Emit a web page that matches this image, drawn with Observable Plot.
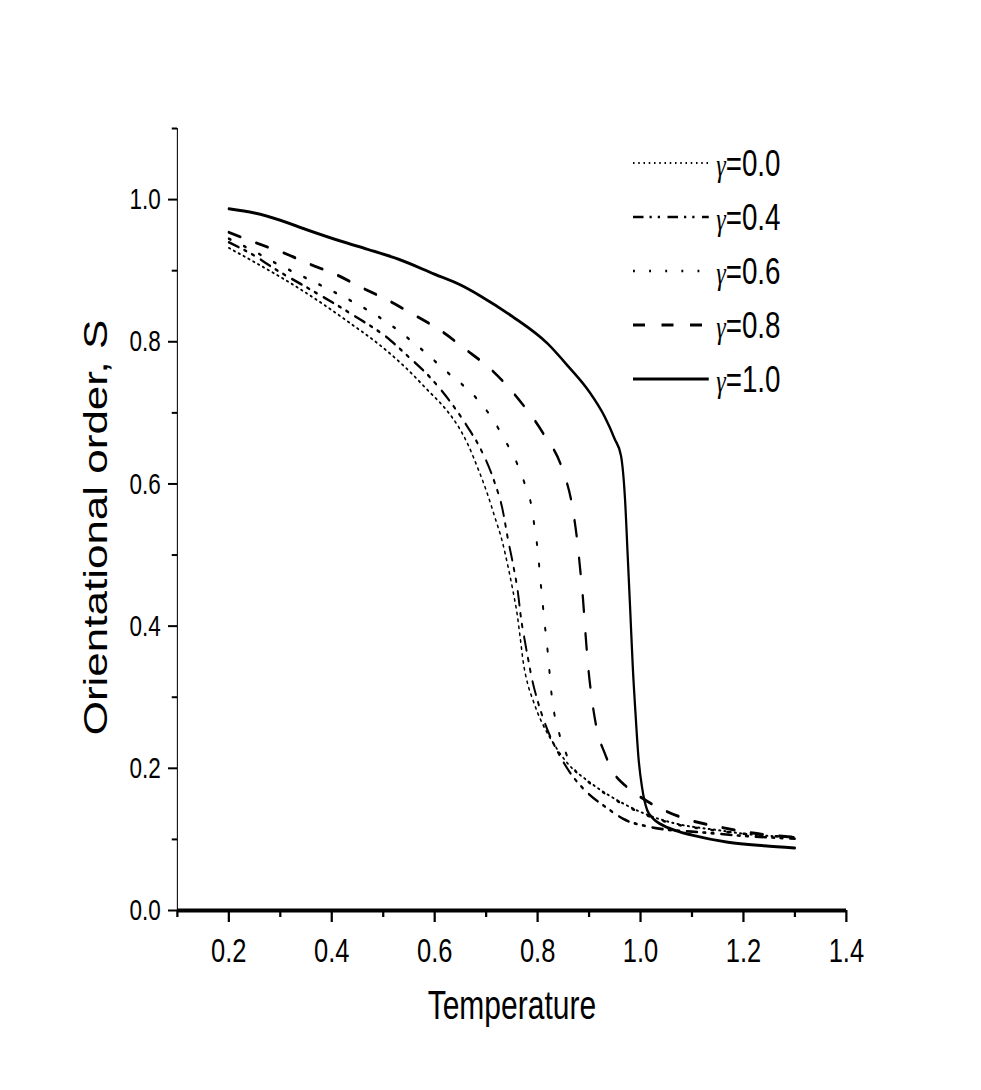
<!DOCTYPE html>
<html><head><meta charset="utf-8">
<script src="https://cdn.jsdelivr.net/npm/d3@7"></script>
<script src="https://cdn.jsdelivr.net/npm/@observablehq/plot@0.6"></script>
<style>html,body{margin:0;padding:0;background:#fff} #chart svg{display:block}</style>
</head><body><div id="chart"></div>
<script>
// ---- data ----
const gammas = ["0.0", "0.4", "0.6", "0.8", "1.0"];

const t00 = [0.20,0.25,0.33,0.383,0.436,0.494,0.543,0.585,0.624,0.644,0.663,0.685,0.702,0.717,0.731,0.743,0.752,0.760,0.766,0.772,0.781,0.790,0.799,0.81,0.83,0.857,0.902,0.96,1.012,1.064,1.15,1.20,1.30];
const s00 = [0.932,0.912,0.878,0.853,0.826,0.795,0.764,0.733,0.703,0.683,0.658,0.620,0.587,0.553,0.520,0.482,0.450,0.418,0.385,0.350,0.318,0.298,0.280,0.262,0.236,0.208,0.180,0.153,0.135,0.123,0.113,0.108,0.103];

const t04 = [0.20,0.25,0.286,0.362,0.436,0.514,0.543,0.591,0.636,0.665,0.688,0.717,0.731,0.743,0.752,0.762,0.768,0.775,0.781,0.789,0.80,0.81,0.822,0.84,0.862,0.888,0.937,0.966,1.015,1.06,1.10,1.20,1.30];
const s04 = [0.940,0.921,0.904,0.872,0.840,0.802,0.783,0.750,0.710,0.679,0.651,0.601,0.567,0.520,0.488,0.446,0.410,0.380,0.356,0.326,0.295,0.272,0.249,0.222,0.195,0.172,0.143,0.129,0.118,0.113,0.111,0.105,0.101];

const t06 = [0.20,0.25,0.29,0.349,0.41,0.471,0.502,0.562,0.62,0.683,0.712,0.737,0.76,0.776,0.789,0.795,0.801,0.805,0.809,0.813,0.818,0.822,0.826,0.832,0.842,0.857,0.875,0.902,0.93,0.96,1.012,1.064,1.12,1.20,1.30];
const s06 = [0.945,0.927,0.911,0.890,0.868,0.844,0.830,0.797,0.760,0.719,0.692,0.661,0.629,0.598,0.565,0.534,0.502,0.468,0.439,0.408,0.376,0.345,0.312,0.279,0.249,0.218,0.195,0.179,0.165,0.152,0.134,0.122,0.115,0.108,0.103];

const t08 = [0.20,0.257,0.31,0.358,0.41,0.459,0.51,0.562,0.611,0.659,0.714,0.762,0.811,0.848,0.867,0.877,0.883,0.888,0.893,0.898,0.905,0.916,0.93,0.945,0.970,0.995,1.046,1.096,1.15,1.20,1.25,1.30];
const s08 = [0.954,0.938,0.924,0.909,0.894,0.876,0.858,0.837,0.816,0.790,0.758,0.720,0.671,0.621,0.570,0.520,0.478,0.440,0.390,0.345,0.300,0.252,0.222,0.197,0.176,0.162,0.141,0.127,0.118,0.111,0.106,0.103];

const t10 = [0.20,0.25,0.30,0.35,0.42,0.47,0.53,0.60,0.65,0.69,0.75,0.82,0.86,0.90,0.93,0.95,0.962,0.970,0.975,0.980,0.985,0.990,0.996,1.003,1.013,1.025,1.04,1.07,1.10,1.17,1.24,1.30];
const s10 = [0.987,0.981,0.971,0.958,0.941,0.930,0.916,0.895,0.880,0.864,0.836,0.797,0.765,0.730,0.695,0.663,0.640,0.577,0.500,0.422,0.342,0.280,0.215,0.173,0.141,0.129,0.121,0.112,0.106,0.096,0.091,0.088];

const xMajor = [0.2, 0.4, 0.6, 0.8, 1.0, 1.2, 1.4];
const xMinor = [0.1, 0.3, 0.5, 0.7, 0.9, 1.1, 1.3];
const yMajor = [0.0, 0.2, 0.4, 0.6, 0.8, 1.0];
const yMinor = [0.1, 0.3, 0.5, 0.7, 0.9, 1.1];

const xLabel = "Temperature";
const yLabel = "Orientational order, S";

// ---- build table ----
const seriesT = {"0.0": t00, "0.4": t04, "0.6": t06, "0.8": t08, "1.0": t10};
const seriesS = {"0.0": s00, "0.4": s04, "0.6": s06, "0.8": s08, "1.0": s10};
const rows = [];
for (const g of gammas) seriesT[g].forEach((t, i) => rows.push({g, T: t, S: seriesS[g][i]}));

const lineStyle = {
  "0.0": {dash: "2,5", w: 2},
  "0.4": {dash: "14,8,3,8,3,10", w: 2.6},
  "0.6": {dash: "2.5,19", w: 2.6},
  "0.8": {dash: "16,22", w: 3},
  "1.0": {dash: null, w: 3}
};

// internal drawing is wider and then squeezed horizontally, like the reference
const K = 0.75, OUTW = 981, OUTH = 1090;
const W = Math.round(OUTW / K);

const chart = Plot.plot({
  width: W, height: OUTH,
  marginLeft: 236, marginRight: 180, marginTop: 128, marginBottom: 180,
  style: {fontFamily: "Liberation Sans, Arial, sans-serif", background: "white", color: "black", overflow: "visible"},
  x: {domain: [0.1, 1.4]},
  y: {domain: [0, 1.1]},
  marks: [
    ...gammas.map(g => Plot.line(rows.filter(d => d.g === g), {
      x: "T", y: "S", curve: "monotone-x", stroke: "black",
      strokeWidth: lineStyle[g].w, strokeDasharray: lineStyle[g].dash
    })),
    Plot.axisX({ticks: xMajor, tickSize: 12, tickPadding: 15, tickFormat: d3.format(".1f"), fontSize: 34, label: null, strokeWidth: 3}),
    Plot.axisX({ticks: xMinor, tickSize: 7, tickFormat: () => "", label: null, strokeWidth: 3}),
    Plot.axisY({ticks: yMajor, tickSize: 12, tickPadding: 10, tickFormat: d3.format(".1f"), fontSize: 30, label: null, strokeWidth: 2}),
    Plot.axisY({ticks: yMinor, tickSize: 7, tickFormat: () => "", label: null, strokeWidth: 2}),
    Plot.ruleY([0], {strokeWidth: 4}),
    Plot.ruleX([0.1], {strokeWidth: 1.4}),
    Plot.text([xLabel], {text: d => d, frameAnchor: "bottom", dy: 108, fontSize: 40, textAnchor: "middle"}),
    Plot.text([yLabel], {text: d => d, frameAnchor: "left", dx: -108, dy: 8, rotate: -90, fontSize: 44, textAnchor: "middle"})
  ]
});

// legend (drawn in the same squeezed coordinate space)
const lg = d3.select(chart).append("g").attr("class", "legend").attr("text-anchor", "start");
gammas.forEach((g, i) => {
  const y = 163 + 54 * i;
  lg.append("line")
    .attr("x1", 844).attr("x2", 945).attr("y1", y).attr("y2", y)
    .attr("stroke", "black").attr("stroke-width", lineStyle[g].w)
    .attr("stroke-dasharray", lineStyle[g].dash);
  const t = lg.append("text").attr("x", 955).attr("y", y).attr("dy", "0.36em")
    .attr("text-anchor", "start")
    .attr("font-size", 37).attr("font-family", "Liberation Sans, Arial, sans-serif");
  t.append("tspan").attr("font-family", "Liberation Serif, serif").attr("font-style", "italic").attr("font-size", 32).text("γ");
  t.append("tspan").text("=" + g);
});

chart.setAttribute("viewBox", `0 0 ${W} ${OUTH}`);
chart.setAttribute("preserveAspectRatio", "none");
chart.setAttribute("width", OUTW);
chart.setAttribute("height", OUTH);
chart.style.width = OUTW + "px";
chart.style.height = OUTH + "px";
chart.style.maxWidth = "none";
document.getElementById("chart").appendChild(chart);
</script>
</body></html>
